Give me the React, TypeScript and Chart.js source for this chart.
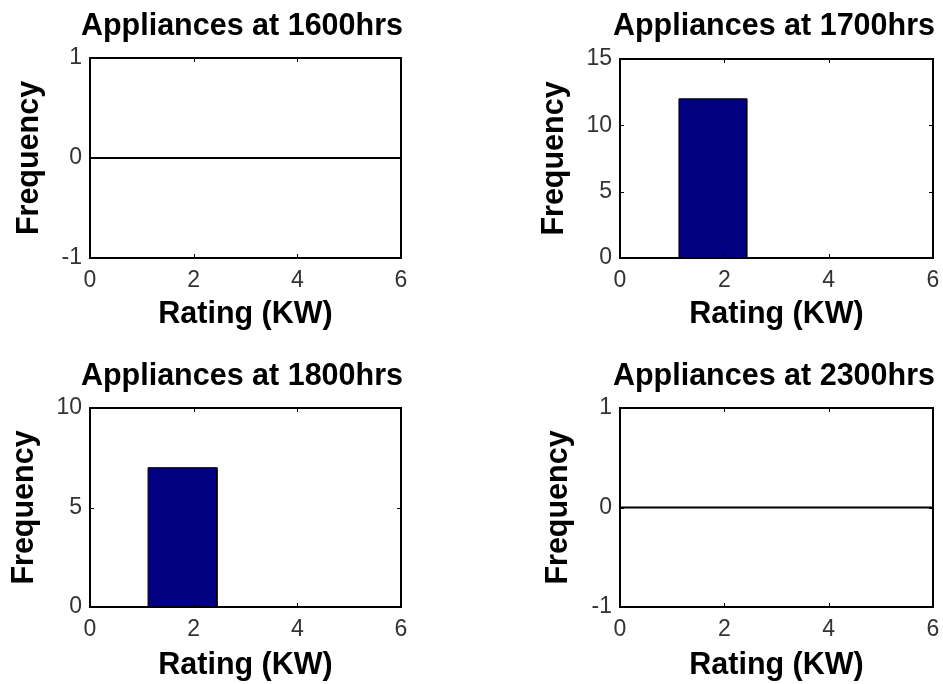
import React, { useEffect, useRef } from "react";
import { Chart, registerables } from "chart.js";

Chart.register(...registerables);

// ---------- data ----------
const panelTitles = [
  "Appliances at 1600hrs",
  "Appliances at 1700hrs",
  "Appliances at 1800hrs",
  "Appliances at 2300hrs",
];
const xAxisLabel = "Rating (KW)";
const yAxisLabel = "Frequency";

const xMin = 0;
const xMax = 6;
const xStep = 2;

const yMins = [-1, 0, 0, -1];
const yMaxs = [1, 15, 10, 1];
const ySteps = [1, 5, 5, 1];

// histogram bins (edges in KW) and counts per panel
const binEdges1600 = [0, 6];
const counts1600 = [0];
const binEdges1700 = [1.13, 2.43];
const counts1700 = [12];
const binEdges1800 = [1.12, 2.45];
const counts1800 = [7];
const binEdges2300 = [0, 6];
const counts2300 = [0];

const allEdges = [binEdges1600, binEdges1700, binEdges1800, binEdges2300];
const allCounts = [counts1600, counts1700, counts1800, counts2300];

// ---------- layout (positions / sizes only) ----------
const layouts = [
  { left: 0, top: 0, w: 471, h: 342, pad: { left: 0, right: 68, top: 0, bottom: 0 }, yW: 90, rW: 2, botH: 84, xTitlePad: 9, yTitlePad: 11.7, tTop: 8.3, tBot: 13.1 },
  { left: 471, top: 0, w: 472, h: 342, pad: { left: 50, right: 8, top: 0, bottom: 0 }, yW: 99, rW: 2, botH: 84, xTitlePad: 9, yTitlePad: 14.9, tTop: 8.3, tBot: 14.1 },
  { left: 0, top: 342, w: 471, h: 342, pad: { left: 0, right: 68, top: 0, bottom: 0 }, yW: 90, rW: 2, botH: 77, xTitlePad: 0.3, yTitlePad: 6.4, tTop: 16.3, tBot: 13.1 },
  { left: 471, top: 342, w: 472, h: 342, pad: { left: 50, right: 8, top: 0, bottom: 0 }, yW: 99, rW: 2, botH: 77, xTitlePad: 0.3, yTitlePad: 19.2, tTop: 16.3, tBot: 13.1 },
];

const FONT = "'Liberation Sans', Arial, Helvetica, sans-serif";
const LABEL_SIZE = 30.5;

function histPoints(edges: number[], counts: number[]) {
  const pts: { x: number; y: number }[] = [];
  for (let i = 0; i < counts.length; i++) {
    const a = edges[i];
    const b = edges[i + 1];
    const c = counts[i];
    pts.push({ x: a, y: 0 }, { x: a, y: c }, { x: b, y: c }, { x: b, y: 0 });
  }
  return pts;
}

const boxPlugin = {
  id: "matlabBox",
  afterDatasetsDraw(chart: any) {
    const { ctx, chartArea: a, scales } = chart;
    const len = 4;
    ctx.save();
    ctx.strokeStyle = "#000";
    ctx.lineWidth = 1;
    ctx.beginPath();
    scales.x.ticks.forEach((t: any) => {
      const px = Math.round(scales.x.getPixelForValue(t.value)) + 0.5;
      ctx.moveTo(px, a.bottom);
      ctx.lineTo(px, a.bottom - len);
      ctx.moveTo(px, a.top);
      ctx.lineTo(px, a.top + len);
    });
    scales.y.ticks.forEach((t: any) => {
      const py = Math.round(scales.y.getPixelForValue(t.value)) + 0.5;
      ctx.moveTo(a.left, py);
      ctx.lineTo(a.left + len, py);
      ctx.moveTo(a.right, py);
      ctx.lineTo(a.right - len, py);
    });
    ctx.stroke();
    ctx.lineWidth = 2;
    ctx.strokeRect(a.left, a.top, a.right - a.left, a.bottom - a.top);
    ctx.restore();
  },
};

function Panel({ idx }: { idx: number }) {
  const ref = useRef<HTMLCanvasElement | null>(null);
  const L = layouts[idx];

  useEffect(() => {
    if (!ref.current) return;
    const empty = allCounts[idx].every((c) => c === 0);
    const chart = new Chart(ref.current, {
      type: "line",
      data: {
        datasets: [
          {
            data: histPoints(allEdges[idx], allCounts[idx]),
            fill: "origin",
            backgroundColor: "#000080",
            borderColor: "#000000",
            borderWidth: empty ? 2 : 1,
            pointRadius: 0,
            tension: 0,
          },
        ],
      },
      options: {
        responsive: false,
        animation: false,
        devicePixelRatio: 1,
        layout: { padding: L.pad },
        plugins: {
          legend: { display: false },
          tooltip: { enabled: false },
          title: {
            display: true,
            text: panelTitles[idx],
            align: "end",
            color: "#000",
            font: { family: FONT, size: LABEL_SIZE, weight: "bold" },
            padding: { top: L.tTop, bottom: L.tBot },
          },
        },
        scales: {
          x: {
            type: "linear",
            position: "bottom",
            min: xMin,
            max: xMax,
            grid: { display: false, drawTicks: false },
            border: { display: false },
            ticks: {
              stepSize: xStep,
              padding: 9,
              color: "#333",
              font: { family: FONT, size: 23 },
              maxRotation: 0,
            },
            title: {
              display: true,
              text: xAxisLabel,
              color: "#000",
              font: { family: FONT, size: LABEL_SIZE, weight: "bold" },
              padding: { top: 0, bottom: L.xTitlePad },
            },
            afterFit: (s: any) => {
              s.height = L.botH;
              s.paddingLeft = 0;
              s.paddingRight = 0;
            },
          },
          y: {
            type: "linear",
            position: "left",
            min: yMins[idx],
            max: yMaxs[idx],
            grid: { display: false, drawTicks: false },
            border: { display: false },
            ticks: {
              stepSize: ySteps[idx],
              padding: 8,
              color: "#333",
              font: { family: FONT, size: 23 },
            },
            title: {
              display: true,
              text: yAxisLabel,
              color: "#000",
              font: { family: FONT, size: LABEL_SIZE, weight: "bold" },
              padding: { top: L.yTitlePad, bottom: 0 },
            },
            afterFit: (s: any) => {
              s.width = L.yW;
              s.paddingTop = 0;
              s.paddingBottom = 0;
            },
          },
          y2: {
            type: "linear",
            axis: "y",
            position: "right",
            grid: { display: false, drawTicks: false },
            border: { display: false },
            ticks: { display: false },
            afterFit: (s: any) => {
              s.width = L.rW;
              s.paddingTop = 0;
              s.paddingBottom = 0;
            },
          },
        },
      } as any,
      plugins: [boxPlugin],
    });
    return () => chart.destroy();
  }, [idx]);

  return (
    <canvas
      ref={ref}
      width={L.w}
      height={L.h}
      style={{ position: "absolute", left: L.left, top: L.top, width: L.w, height: L.h }}
    />
  );
}

export default function App() {
  return (
    <div
      style={{
        position: "absolute",
        left: 0,
        top: 0,
        width: 943,
        height: 684,
        background: "#ffffff",
        overflow: "hidden",
      }}
    >
      {panelTitles.map((_, i) => (
        <Panel key={i} idx={i} />
      ))}
    </div>
  );
}
